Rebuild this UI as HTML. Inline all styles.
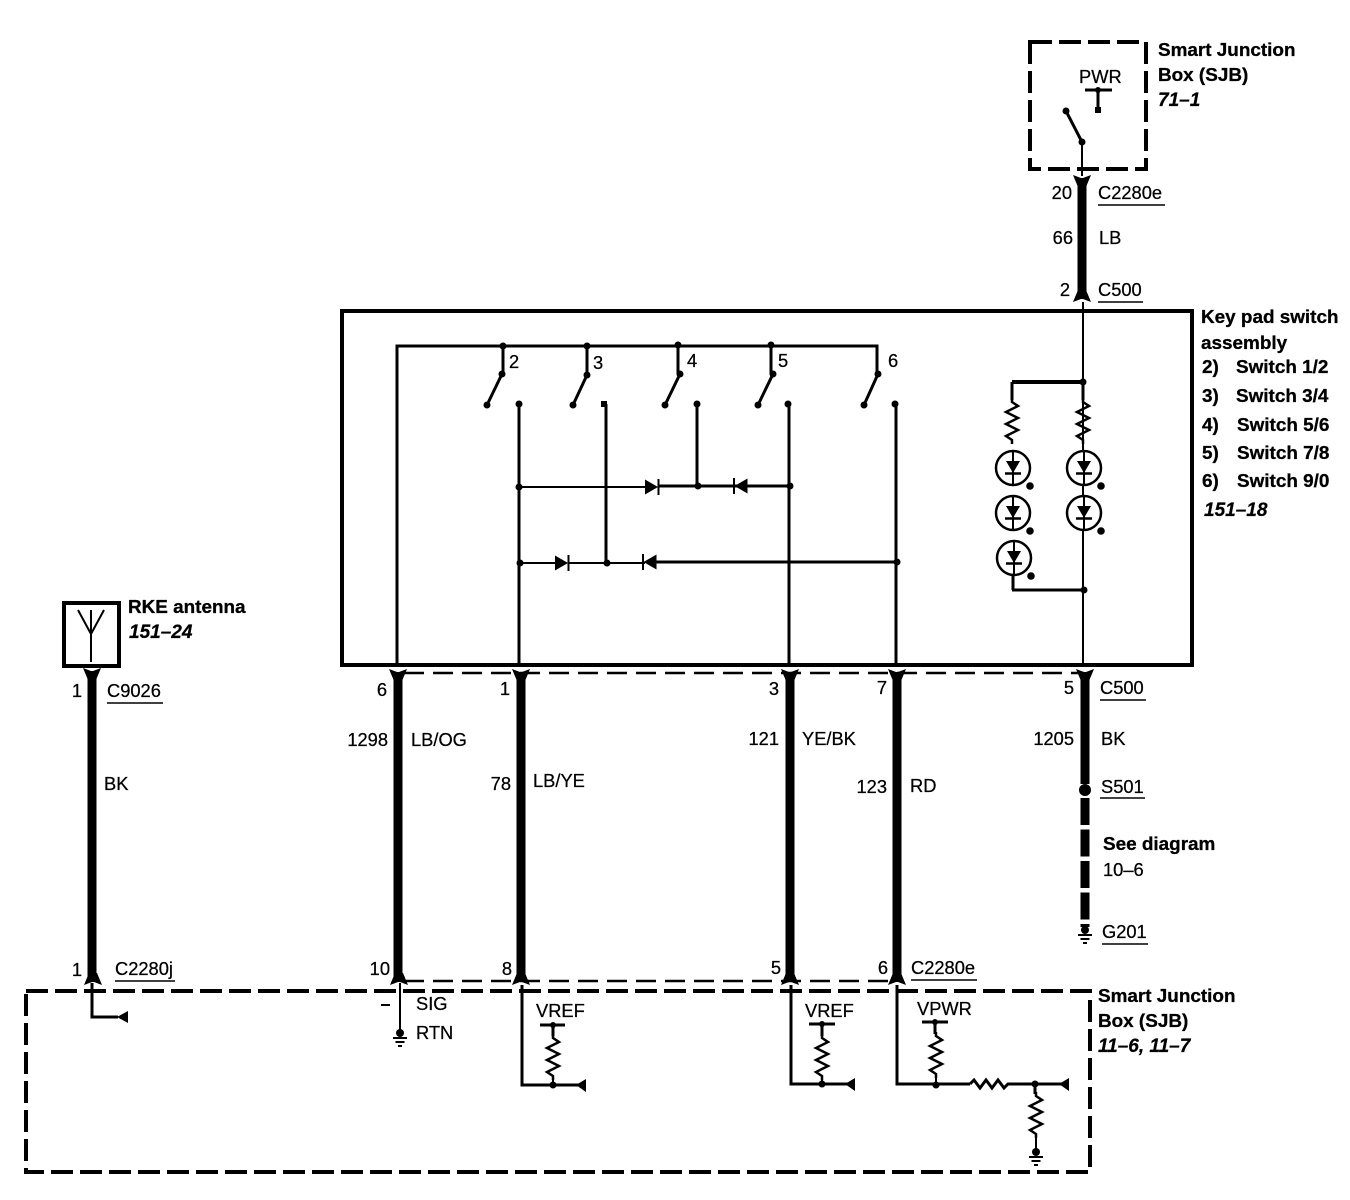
<!DOCTYPE html>
<html><head><meta charset="utf-8"><style>
html,body{margin:0;padding:0;background:#fff;width:1350px;height:1200px;overflow:hidden}
svg{display:block}
text{font-family:"Liberation Sans",sans-serif;font-size:18.3px;fill:#000;stroke:#000;stroke-width:.25}
.b{font-weight:bold;font-size:18.9px;stroke-width:.3}
.i{font-weight:bold;font-style:italic;font-size:19px}
.e{text-anchor:end}
.w{stroke:#000;stroke-width:9;fill:none}
.t{stroke:#000;stroke-width:2;fill:none}
.m{stroke:#000;stroke-width:3;fill:none}
.d{stroke:#000;stroke-width:4;fill:none;stroke-dasharray:22 7}
.h{stroke:#000;stroke-width:2.5;fill:none;stroke-dasharray:20 9}
.u{stroke:#000;stroke-width:1.5}
</style></head><body>
<svg width="1350" height="1200" viewBox="0 0 1350 1200" xmlns="http://www.w3.org/2000/svg">
<defs>
<g id="dn"><path d="M-9,-6 L-1,-3 L1,-3 L9,-6 L4,6 L-4,6Z" fill="#000"/></g>
<g id="up"><path d="M-9,6 L-1,3 L1,3 L9,6 L4,-6 L-4,-6Z" fill="#000"/></g>
<path id="rv" d="M0,0 v4 l6,4 l-12,6 l12,6 l-12,6 l12,6 l-12,6 l6,4 v4" fill="none" stroke="#000" stroke-width="2.5"/>
<g id="led"><circle r="17" fill="#fff" stroke="#000" stroke-width="2.5"/><path d="M0,-17V17" stroke="#000" stroke-width="2"/><path d="M-7,-7 H7 L0,5Z" fill="#000"/><path d="M-8,5.500 H8" stroke="#000" stroke-width="2.500"/><circle cx="17" cy="18" r="3.800" fill="#000"/></g>
<g id="dr"><path d="M0,-7.500 L13,0 L0,7.500Z" fill="#000"/><path d="M13.500,-8V8" stroke="#000" stroke-width="2"/></g>
<g id="dl"><path d="M13.500,-7.500 L0.500,0 L13.500,7.500Z" fill="#000"/><path d="M0,-8V8" stroke="#000" stroke-width="2"/></g>
<g id="gnd"><circle cy="-3" r="4" fill="#000"/><path d="M-7,2H7M-4.500,6H4.500M-2,10H2" stroke="#000" stroke-width="2"/></g>
</defs>

<!-- Top SJB -->
<path class="d" d="M1030,42 H1146 V169 H1030 V42Z"/>
<text x="1079" y="83">PWR</text>
<path class="m" d="M1085,90H1112M1098,90V110"/>
<circle cx="1098" cy="90" r="3"/><rect x="1095" y="107" width="6" height="6"/>
<path class="m" d="M1066,111 L1082,142" stroke-width="4"/>
<circle cx="1066" cy="111" r="3.500"/><circle cx="1082" cy="142" r="3.500"/>
<path class="t" d="M1082,142V176"/>
<use href="#dn" x="1082" y="181"/>
<path class="w" d="M1082,180V298"/>
<use href="#up" x="1082" y="296"/>
<text class="b" x="1158" y="56">Smart Junction</text>
<text class="b" x="1158" y="81">Box (SJB)</text>
<text class="i" x="1158" y="106">71–1</text>
<text class="e" x="1072" y="199">20</text>
<text x="1098" y="199">C2280e</text><path class="u" d="M1098,205H1165"/>
<text class="e" x="1073" y="244">66</text><text x="1099" y="244">LB</text>
<text class="e" x="1070" y="296">2</text>
<text x="1098" y="296">C500</text><path class="u" d="M1098,302H1143"/>

<!-- Main box -->
<rect x="342" y="311" width="850" height="354" fill="none" stroke="#000" stroke-width="4"/>
<text class="b" x="1201" y="323">Key pad switch</text>
<text class="b" x="1201" y="349">assembly</text>
<text class="b" x="1202" y="373">2)</text><text class="b" x="1236" y="373">Switch 1/2</text>
<text class="b" x="1202" y="402">3)</text><text class="b" x="1236" y="402">Switch 3/4</text>
<text class="b" x="1202" y="431">4)</text><text class="b" x="1237" y="431">Switch 5/6</text>
<text class="b" x="1202" y="459">5)</text><text class="b" x="1237" y="459">Switch 7/8</text>
<text class="b" x="1202" y="487">6)</text><text class="b" x="1237" y="487">Switch 9/0</text>
<text class="i" x="1204" y="516">151–18</text>

<!-- Switch bus -->
<path class="m" d="M397,665V346H877V372"/>
<path class="m" d="M503,346V374M587,346V376M678,346V374M771,346V374"/>
<g fill="#000">
<circle cx="503" cy="346" r="3.500"/><circle cx="587" cy="346" r="3.500"/><circle cx="678" cy="345" r="3.500"/><circle cx="771" cy="345" r="3.500"/>
<circle cx="502" cy="374" r="3.500"/><circle cx="587" cy="375" r="3.500"/><circle cx="680" cy="374" r="3.500"/><circle cx="773" cy="374" r="3.500"/><circle cx="878" cy="374" r="3.500"/>
<circle cx="487" cy="405" r="3.500"/><circle cx="573" cy="405" r="3.500"/><circle cx="665" cy="405" r="3.500"/><circle cx="758" cy="405" r="3.500"/><circle cx="864" cy="405" r="3.500"/>
<circle cx="519" cy="404" r="3.500"/><rect x="601" y="401" width="6" height="6"/><circle cx="697" cy="404" r="3.500"/><circle cx="788" cy="404" r="3.500"/><circle cx="895" cy="404" r="3.500"/>
<circle cx="519" cy="487" r="3.500"/><circle cx="698" cy="486" r="3.500"/><circle cx="790" cy="486" r="3.500"/>
<circle cx="520" cy="563" r="3.500"/><circle cx="607" cy="563" r="3.500"/><circle cx="897" cy="562" r="3.500"/>
</g>
<path class="m" d="M502,374L487,405M587,375L573,405M680,374L665,405M773,374L758,405M878,374L864,405"/>
<text x="509" y="368">2</text><text x="593" y="369">3</text><text x="687" y="367">4</text><text x="778" y="367">5</text><text x="888" y="367">6</text>
<path class="m" d="M519,404V665"/>
<path class="m" d="M606,404V563"/>
<path class="m" d="M697,404V486" stroke-width="2.500"/>
<path class="m" d="M789,404V665" stroke-width="2.500"/>
<path class="m" d="M896,404V665"/>
<path class="t" d="M519,487H646"/><path class="m" d="M658,486H790"/>
<path class="t" d="M520,563H556"/><path class="t" d="M568,563H645"/><path class="m" d="M655,562H897"/>
<use href="#dr" x="645" y="487"/><use href="#dl" x="734" y="486"/>
<use href="#dr" x="555" y="563"/><use href="#dl" x="643" y="562"/>

<!-- LEDs -->
<path class="t" d="M1083,302V665" stroke-width="2.500"/>
<path d="M1012,382H1083" stroke="#000" stroke-width="4"/>
<path class="m" d="M1012,382V400"/>
<path class="m" d="M1013,590V575M1012,590H1084"/>
<path class="m" d="M1083,382V400"/>
<circle cx="1083" cy="382" r="3.500"/><circle cx="1084" cy="590" r="3.500"/>
<use href="#rv" x="1012" y="398"/><use href="#rv" x="1083" y="398"/>
<use href="#led" x="1013" y="468"/><use href="#led" x="1013" y="513"/><use href="#led" x="1014" y="558"/>
<use href="#led" x="1084" y="468"/><use href="#led" x="1084" y="513"/>

<!-- Mid dashed -->
<path class="h" d="M404,673H1080"/>
<path class="h" d="M404,981H895"/>

<!-- Thick wires -->
<g>
<path class="w" d="M398,674V978"/><path class="w" d="M521,674V978"/><path class="w" d="M790,674V978"/><path class="w" d="M897,674V978"/>
<path class="w" d="M1085,674V784"/>
<path class="w" d="M1085,798V927" stroke-dasharray="27 4.500"/>
<path class="w" d="M92,672V978"/>
<use href="#dn" x="398" y="675"/><use href="#dn" x="521" y="675"/><use href="#dn" x="790" y="675"/><use href="#dn" x="897" y="675"/><use href="#dn" x="1085" y="675"/><use href="#dn" x="92" y="674"/>
<use href="#up" x="399" y="979"/><use href="#up" x="521" y="979"/><use href="#up" x="790" y="979"/><use href="#up" x="897" y="979"/><use href="#up" x="93" y="979"/>
</g>
<circle cx="1085" cy="790" r="6"/>
<use href="#gnd" x="1085" y="933"/>

<!-- Wire labels -->
<text class="e" x="387" y="696">6</text>
<text class="e" x="388" y="746">1298</text><text x="411" y="746">LB/OG</text>
<text class="e" x="510" y="695">1</text>
<text class="e" x="511" y="790">78</text><text x="533" y="787">LB/YE</text>
<text class="e" x="779" y="695">3</text>
<text class="e" x="779" y="745">121</text><text x="802" y="745">YE/BK</text>
<text class="e" x="887" y="694">7</text>
<text class="e" x="887" y="793">123</text><text x="910" y="792">RD</text>
<text class="e" x="1074" y="694">5</text>
<text x="1100" y="694">C500</text><path class="u" d="M1100,700H1146"/>
<text class="e" x="1074" y="745">1205</text><text x="1101" y="745">BK</text>
<text x="1101" y="793">S501</text><path class="u" d="M1100,798H1145"/>
<text class="b" x="1103" y="850">See diagram</text>
<text x="1103" y="876">10–6</text>
<text x="1102" y="938">G201</text><path class="u" d="M1102,944H1148" stroke-width="2"/>

<!-- Antenna -->
<rect x="64" y="603" width="55" height="63" fill="none" stroke="#000" stroke-width="4"/>
<path class="t" d="M78,610L91,634L104,610M91,610V662"/>
<text class="b" x="128" y="613">RKE antenna</text>
<text class="i" x="129" y="638">151–24</text>
<text class="e" x="82" y="697">1</text>
<text x="107" y="697">C9026</text><path class="u" d="M107,703H163"/>
<text x="104" y="790">BK</text>

<!-- Bottom SJB -->
<path class="d" d="M26,991H1090V1172H26V991Z"/>
<text class="b" x="1098" y="1002">Smart Junction</text>
<text class="b" x="1098" y="1027">Box (SJB)</text>
<text class="i" x="1098" y="1052">11–6, 11–7</text>
<text class="e" x="82" y="976">1</text>
<text x="115" y="975">C2280j</text><path class="u" d="M115,981H175"/>
<text class="e" x="390" y="975">10</text>
<text class="e" x="512" y="975">8</text>
<text class="e" x="781" y="974">5</text>
<text class="e" x="888" y="974">6</text>
<text x="911" y="974">C2280e</text><path class="u" d="M911,980H977"/>

<path class="m" d="M92,983V1017H118"/>
<path d="M128,1011V1023L117,1017Z"/>
<path class="t" d="M381,1005H390" />
<text x="416" y="1010">SIG</text><text x="416" y="1039">RTN</text>
<path class="t" d="M400,983V1030"/><use href="#gnd" x="400" y="1036"/>

<path class="m" d="M522,985V1085H580"/>
<path d="M586,1079V1092L576,1085Z"/>
<text x="536" y="1017">VREF</text>
<path class="m" d="M540,1025H565M553,1025V1036"/><circle cx="553" cy="1025" r="3"/>
<use href="#rv" x="553" y="1034"/><path class="t" d="M553,1076V1085"/><circle cx="553" cy="1085" r="3.500"/>

<path class="m" d="M791,985V1084H848"/>
<path d="M855,1078V1091L845,1084Z"/>
<text x="805" y="1017">VREF</text>
<path class="m" d="M809,1024H835M822,1024V1036"/><circle cx="822" cy="1024" r="3"/>
<use href="#rv" x="822" y="1034"/><path class="t" d="M822,1076V1084"/><circle cx="822" cy="1084" r="3.500"/>

<path class="m" d="M897,985V1084H970"/>
<text x="917" y="1015">VPWR</text>
<path class="m" d="M922,1022H948M935,1022V1034"/><circle cx="935" cy="1022" r="3"/>
<use href="#rv" x="936" y="1032"/><path class="t" d="M936,1074V1084"/><circle cx="936" cy="1085" r="3.500"/>
<path class="m" d="M970,1084l4,-4l6,8l6,-8l6,8l6,-8l6,8l4,-4H1062"/>
<path d="M1069,1078V1091L1059,1084Z"/>
<circle cx="1035" cy="1084" r="3.500"/>
<path class="m" d="M1035,1084V1094"/>
<use href="#rv" x="1036" y="1092"/><path class="t" d="M1036,1134V1150"/>
<use href="#gnd" x="1036" y="1155"/>
</svg>
</body></html>
